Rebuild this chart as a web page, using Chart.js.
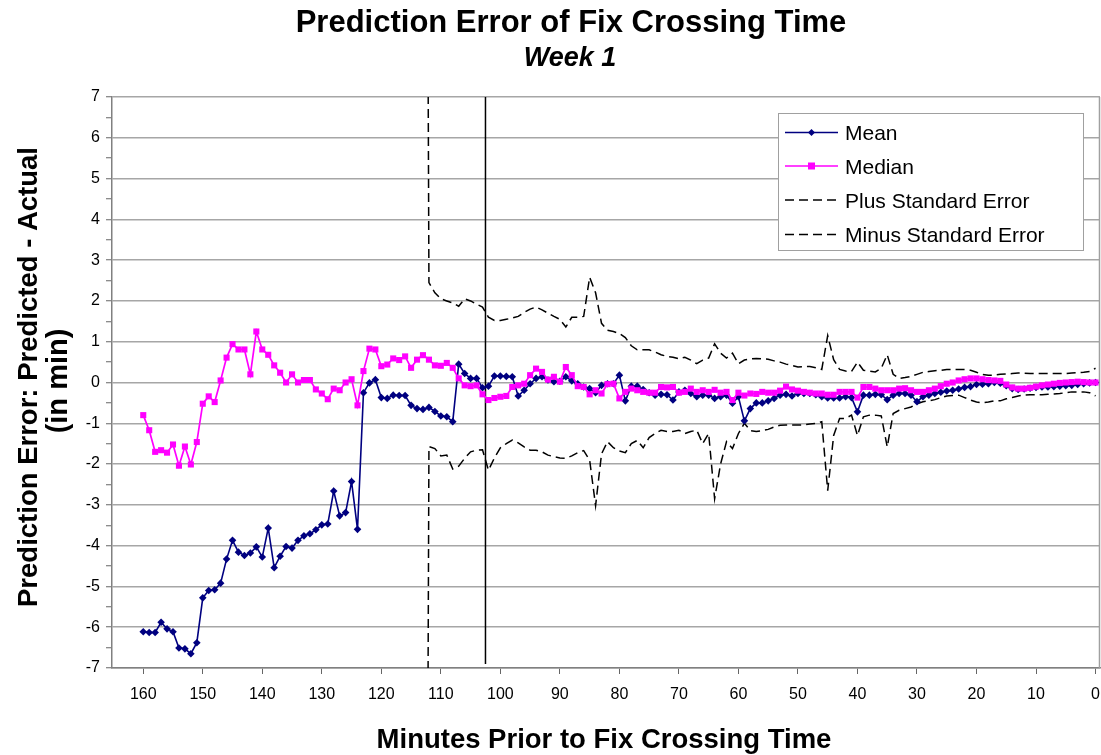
<!DOCTYPE html>
<html>
<head>
<meta charset="utf-8">
<script src="https://cdn.jsdelivr.net/npm/chart.js@4/dist/chart.umd.min.js"></script>
<style>
html,body{margin:0;padding:0;background:#ffffff;}
canvas{display:block;}
</style>
</head>
<body>
<canvas id="c" width="1101" height="755"></canvas>
<script>
// ---- data ----
const minutes = [
 160,159,158,157,156,155,154,153,152,151,
 150,149,148,147,146,145,144,143,142,141,
 140,139,138,137,136,135,134,133,132,131,
 130,129,128,127,126,125,124,123,122,121,
 120,119,118,117,116,115,114,113,112,111,
 110,109,108,107,106,105,104,103,102,101,
 100,99,98,97,96,95,94,93,92,91,
 90,89,88,87,86,85,84,83,82,81,
 80,79,78,77,76,75,74,73,72,71,
 70,69,68,67,66,65,64,63,62,61,
 60,59,58,57,56,55,54,53,52,51,
 50,49,48,47,46,45,44,43,42,41,
 40,39,38,37,36,35,34,33,32,31,
 30,29,28,27,26,25,24,23,22,21,
 20,19,18,17,16,15,14,13,12,11,
 10,9,8,7,6,5,4,3,2,1,
 0
];

const meanValues = [
 -6.11,-6.13,-6.13,-5.88,-6.04,-6.11,-6.51,-6.53,-6.65,-6.38,
 -5.28,-5.10,-5.08,-4.92,-4.33,-3.87,-4.16,-4.24,-4.18,-4.03,
 -4.28,-3.57,-4.54,-4.26,-4.02,-4.06,-3.87,-3.76,-3.71,-3.61,
 -3.49,-3.47,-2.66,-3.27,-3.19,-2.43,-3.60,-0.25,-0.01,0.07,
 -0.37,-0.39,-0.31,-0.32,-0.32,-0.56,-0.64,-0.66,-0.61,-0.71,
 -0.82,-0.84,-0.96,0.45,0.22,0.10,0.10,-0.13,-0.09,0.16,
 0.16,0.15,0.14,-0.33,-0.19,-0.03,0.10,0.14,0.06,0.02,
 0.03,0.14,0.04,-0.03,-0.11,-0.15,-0.25,-0.07,-0.03,-0.03,
 0.18,-0.45,-0.09,-0.09,-0.17,-0.25,-0.31,-0.29,-0.30,-0.43,
 -0.23,-0.19,-0.27,-0.35,-0.31,-0.31,-0.39,-0.35,-0.31,-0.51,
 -0.35,-0.94,-0.64,-0.50,-0.50,-0.45,-0.39,-0.31,-0.29,-0.33,
 -0.27,-0.27,-0.27,-0.30,-0.35,-0.38,-0.38,-0.38,-0.35,-0.37,
 -0.72,-0.31,-0.31,-0.29,-0.30,-0.42,-0.31,-0.27,-0.27,-0.31,
 -0.47,-0.35,-0.31,-0.27,-0.24,-0.21,-0.19,-0.16,-0.12,-0.10,
 -0.05,-0.04,-0.03,0.00,-0.02,-0.08,-0.15,-0.17,-0.16,-0.14,
 -0.12,-0.11,-0.11,-0.10,-0.09,-0.08,-0.07,-0.05,-0.03,-0.01,
 0.00
];

const medianValues = [
 -0.80,-1.17,-1.70,-1.66,-1.72,-1.52,-2.04,-1.57,-2.01,-1.46,
 -0.52,-0.34,-0.48,0.05,0.61,0.94,0.81,0.81,0.20,1.25,
 0.81,0.68,0.42,0.24,0.00,0.20,0.00,0.06,0.06,-0.17,
 -0.27,-0.41,-0.15,-0.19,0.00,0.08,-0.56,0.28,0.83,0.81,
 0.40,0.44,0.59,0.55,0.64,0.36,0.56,0.67,0.56,0.42,
 0.41,0.48,0.36,0.10,-0.07,-0.09,-0.07,-0.29,-0.43,-0.38,
 -0.35,-0.33,-0.11,-0.07,-0.03,0.18,0.34,0.26,0.07,0.14,
 0.02,0.38,0.18,-0.09,-0.11,-0.29,-0.19,-0.27,-0.04,-0.03,
 -0.39,-0.23,-0.15,-0.19,-0.23,-0.25,-0.25,-0.11,-0.12,-0.11,
 -0.25,-0.23,-0.15,-0.23,-0.19,-0.23,-0.18,-0.25,-0.23,-0.43,
 -0.25,-0.32,-0.27,-0.28,-0.23,-0.25,-0.25,-0.20,-0.10,-0.17,
 -0.20,-0.23,-0.25,-0.27,-0.27,-0.30,-0.30,-0.23,-0.23,-0.23,
 -0.37,-0.11,-0.11,-0.15,-0.19,-0.19,-0.19,-0.15,-0.14,-0.19,
 -0.23,-0.23,-0.19,-0.15,-0.09,-0.03,0.00,0.05,0.08,0.10,
 0.10,0.08,0.06,0.05,0.04,-0.05,-0.12,-0.15,-0.15,-0.13,
 -0.10,-0.07,-0.05,-0.03,-0.01,0.00,0.01,0.02,0.01,0.00,
 0.00
];

// standard-error bands exist from minute 113 down to 0
const seStartMinute = 113;
const plusSE = [
 40,2.45,2.2,2.05,2.0,1.95,1.87,2.05,2.0,1.92,
 1.85,1.6,1.52,1.52,1.55,1.58,1.62,1.72,1.8,1.85,
 1.78,1.7,1.62,1.55,1.36,1.6,1.6,1.62,2.58,2.2,
 1.45,1.28,1.25,1.2,1.1,0.9,0.8,0.8,0.8,0.75,
 0.68,0.64,0.62,0.58,0.62,0.55,0.46,0.55,0.6,0.95,
 0.72,0.6,0.72,0.46,0.55,0.58,0.59,0.58,0.57,0.53,
 0.5,0.45,0.42,0.38,0.39,0.39,0.36,0.32,1.15,0.56,
 0.32,0.28,0.27,0.5,0.3,0.28,0.26,0.35,0.68,0.2,
 0.1,0.12,0.15,0.2,0.25,0.27,0.29,0.3,0.32,0.32,
 0.32,0.32,0.3,0.25,0.2,0.18,0.18,0.2,0.21,0.22,
 0.23,0.23,0.22,0.22,0.22,0.22,0.22,0.22,0.22,0.23,
 0.24,0.25,0.27,0.35
];
const minusSE = [
 -40,-1.57,-1.62,-1.80,-1.78,-2.12,-2.05,-1.86,-1.70,-1.66,
 -1.65,-2.15,-1.85,-1.6,-1.5,-1.41,-1.48,-1.58,-1.66,-1.66,
 -1.7,-1.78,-1.82,-1.85,-1.86,-1.80,-1.72,-1.67,-1.9,-3.02,
 -1.75,-1.45,-1.6,-1.68,-1.72,-1.5,-1.42,-1.6,-1.35,-1.25,
 -1.17,-1.2,-1.2,-1.17,-1.25,-1.2,-1.17,-1.5,-1.25,-2.85,
 -2.0,-1.45,-1.62,-1.25,-1.0,-1.18,-1.2,-1.18,-1.15,-1.09,
 -1.05,-1.04,-1.04,-1.04,-1.04,-1.02,-1.0,-0.96,-2.65,-1.3,
 -0.88,-0.88,-0.8,-1.3,-0.84,-0.8,-0.8,-0.82,-1.58,-0.76,
 -0.68,-0.64,-0.6,-0.52,-0.47,-0.45,-0.42,-0.37,-0.33,-0.32,
 -0.31,-0.37,-0.43,-0.48,-0.5,-0.48,-0.45,-0.45,-0.4,-0.37,
 -0.33,-0.31,-0.3,-0.3,-0.3,-0.29,-0.28,-0.27,-0.25,-0.23,
 -0.23,-0.23,-0.25,-0.33
];

// vertical reference line position (minutes)
const cutoffMinute = 102.5;
const cutoffRange = [7, -6.9];

const xTickValues = [160,150,140,130,120,110,100,90,80,70,60,50,40,30,20,10,0];
const yTickValues = [7,6,5,4,3,2,1,0,-1,-2,-3,-4,-5,-6,-7];

const titleText = 'Prediction Error of Fix Crossing Time';
const subtitleText = 'Week 1';
const yTitleLines = ['Prediction Error: Predicted - Actual', '(in min)'];
const xTitleText = 'Minutes Prior to Fix Crossing Time';
const seriesNames = ['Mean', 'Median', 'Plus Standard Error', 'Minus Standard Error'];

// ---- build datasets ----
const toPoints = (xs, ys) => xs.map((x, i) => ({x: x, y: ys[i]}));
const seMinutes = minutes.filter(m => m <= seStartMinute);

const FONT = '"Liberation Sans", Arial, Helvetica, sans-serif';
const NAVY = '#000080';
const MAGENTA = '#FF00FF';
const DASH = [9, 5];

const textPlugin = {
  id: 'texts',
  beforeDraw(chart) {
    const ctx = chart.ctx;
    ctx.save();
    ctx.fillStyle = '#ffffff';
    ctx.fillRect(0, 0, chart.width, chart.height);
    ctx.restore();
  },
  beforeDatasetsDraw(chart) {
    const a = chart.chartArea;
    const ctx = chart.ctx;
    ctx.save();
    ctx.strokeStyle = '#a0a0a0';
    ctx.lineWidth = 1.5;
    ctx.beginPath();
    ctx.moveTo(a.right - 0.5, a.top);
    ctx.lineTo(a.right - 0.5, a.bottom);
    ctx.stroke();
    ctx.restore();
  },
  afterDraw(chart) {
    const ctx = chart.ctx;
    ctx.save();
    ctx.fillStyle = '#000';
    ctx.textAlign = 'center';
    ctx.textBaseline = 'alphabetic';
    ctx.font = 'bold 31px ' + FONT;
    ctx.fillText(titleText, 571, 32);
    ctx.font = 'italic bold 27px ' + FONT;
    ctx.fillText(subtitleText, 570, 66);

    ctx.font = 'bold 27.5px ' + FONT;
    ctx.textBaseline = 'middle';
    ctx.fillText(xTitleText, 604, 740);

    ctx.save();
    ctx.translate(29, 377);
    ctx.rotate(-Math.PI / 2);
    ctx.fillText(yTitleLines[0], 0, 0);
    ctx.restore();
    ctx.save();
    ctx.translate(59, 381);
    ctx.rotate(-Math.PI / 2);
    ctx.font = 'bold 29px ' + FONT;
    ctx.fillText(yTitleLines[1], 0, 0);
    ctx.restore();

    // legend
    const lx = 778.5, ly = 113.5, lw = 305, lh = 137;
    ctx.fillStyle = '#ffffff';
    ctx.fillRect(lx, ly, lw, lh);
    ctx.strokeStyle = '#a0a0a0';
    ctx.lineWidth = 1;
    ctx.strokeRect(lx, ly, lw, lh);
    const rows = [132.5, 166, 200, 234.5];
    const x0 = 785, x1 = 838;
    ctx.font = '21px ' + FONT;
    ctx.textAlign = 'left';
    ctx.textBaseline = 'alphabetic';
    for (let i = 0; i < 4; i++) {
      const y = rows[i];
      ctx.save();
      ctx.beginPath();
      if (i === 0) { ctx.strokeStyle = NAVY; ctx.lineWidth = 1.5; }
      else if (i === 1) { ctx.strokeStyle = MAGENTA; ctx.lineWidth = 1.5; }
      else { ctx.strokeStyle = '#000'; ctx.lineWidth = 1.5; ctx.setLineDash(DASH); }
      ctx.moveTo(x0, y);
      ctx.lineTo(x1, y);
      ctx.stroke();
      ctx.restore();
      const cx = (x0 + x1) / 2;
      if (i === 0) {
        ctx.fillStyle = NAVY;
        ctx.beginPath();
        ctx.moveTo(cx - 3.5, y); ctx.lineTo(cx, y - 3.5); ctx.lineTo(cx + 3.5, y); ctx.lineTo(cx, y + 3.5);
        ctx.closePath(); ctx.fill();
      } else if (i === 1) {
        ctx.fillStyle = MAGENTA;
        ctx.fillRect(cx - 3.5, y - 3.5, 7, 7);
      }
      ctx.fillStyle = '#000';
      ctx.fillText(seriesNames[i], 845, y + 7.5);
    }
    ctx.restore();
  }
};

const chart = new Chart(document.getElementById('c'), {
  type: 'line',
  data: {
    datasets: [
      {
        label: seriesNames[1],
        data: toPoints(minutes, medianValues),
        borderColor: MAGENTA,
        backgroundColor: MAGENTA,
        borderWidth: 1.7,
        pointStyle: 'rect',
        pointRadius: 4.3,
        pointBorderWidth: 0,
        tension: 0,
        order: 0
      },
      {
        label: seriesNames[0],
        data: toPoints(minutes, meanValues),
        borderColor: NAVY,
        backgroundColor: NAVY,
        borderWidth: 1.6,
        pointStyle: 'rectRot',
        pointRadius: 3.8,
        pointBorderWidth: 0,
        tension: 0,
        order: 1
      },
      {
        label: seriesNames[2],
        data: toPoints(seMinutes, plusSE),
        borderColor: '#000',
        borderWidth: 1.5,
        borderDash: DASH,
        pointRadius: 0,
        tension: 0,
        order: 2
      },
      {
        label: seriesNames[3],
        data: toPoints(seMinutes, minusSE),
        borderColor: '#000',
        borderWidth: 1.5,
        borderDash: DASH,
        pointRadius: 0,
        tension: 0,
        order: 3
      },
      {
        label: 'cutoff',
        data: cutoffRange.map(v => ({x: cutoffMinute, y: v})),
        borderColor: '#000',
        borderWidth: 1.5,
        pointRadius: 0,
        order: 4
      }
    ]
  },
  options: {
    responsive: false,
    devicePixelRatio: 1,
    animation: false,
    events: [],
    layout: { padding: { top: 97, right: 1, bottom: 0, left: 0 }, autoPadding: false },
    plugins: { legend: { display: false }, tooltip: { enabled: false }, title: { display: false } },
    scales: {
      x: {
        type: 'linear',
        reverse: true,
        min: -0.75,
        max: 165.25,
        afterFit(scale) { scale.height = 87; scale.paddingLeft = 0; scale.paddingRight = 0; },
        afterBuildTicks(scale) { scale.ticks = xTickValues.map(v => ({value: v})); },
        ticks: {
          autoSkip: false,
          maxRotation: 0,
          padding: 11,
          color: '#000',
          font: { family: FONT, size: 16 },
          callback: v => String(v)
        },
        grid: { drawOnChartArea: false, drawTicks: true, tickLength: 6, tickColor: '#666', tickWidth: 1 },
        border: { color: '#808080', width: 1.5 }
      },
      y: {
        type: 'linear',
        min: -7,
        max: 7,
        afterFit(scale) { scale.width = 112; scale.paddingTop = 0; scale.paddingBottom = 0; },
        afterBuildTicks(scale) {
          const t = [];
          for (let i = 0; i < yTickValues.length; i++) {
            t.push({value: yTickValues[i]});
            if (i < yTickValues.length - 1) t.push({value: (yTickValues[i] + yTickValues[i + 1]) / 2});
          }
          scale.ticks = t;
        },
        ticks: {
          autoSkip: false,
          padding: 6,
          color: '#000',
          font: { family: FONT, size: 16 },
          callback: v => (Number.isInteger(v) ? String(v) : '')
        },
        grid: {
          color: ctx => (ctx.tick && Number.isInteger(ctx.tick.value) ? '#a6a6a6' : 'rgba(0,0,0,0)'),
          lineWidth: 1.5,
          drawTicks: true,
          tickLength: 6,
          tickColor: '#666',
          tickWidth: 1
        },
        border: { color: '#808080', width: 1.5 }
      }
    }
  },
  plugins: [textPlugin]
});
</script>
</body>
</html>
